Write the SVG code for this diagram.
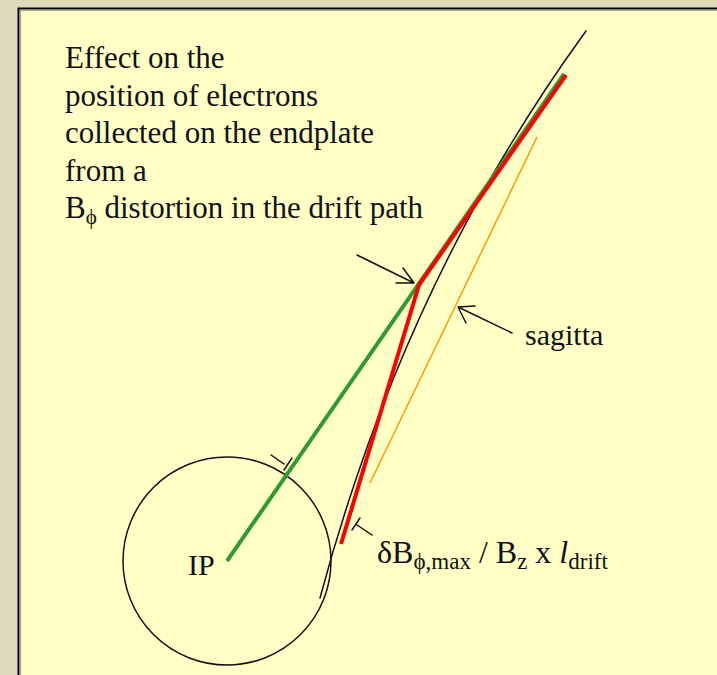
<svg xmlns="http://www.w3.org/2000/svg" width="717" height="675" viewBox="0 0 717 675">
<style>
text{font-family:"Liberation Serif","Times New Roman",serif;fill:#111;}
.t{font-size:30px;}
.h{font-size:31px;}
.s{font-size:21px;}
.s2{font-size:23px;}
.thin{fill:none;stroke:#111;stroke-width:1.5;stroke-linecap:round;stroke-linejoin:round;}
</style>
<rect x="0" y="0" width="717" height="675" fill="#DEDABB"/>
<rect x="18" y="8" width="699" height="667" fill="#FFFFC6"/>
<path d="M18.5 675 V8.5 H717" fill="none" stroke="#000" stroke-width="2"/>
<path d="M20.5 675 V10.5 H717" fill="none" stroke="#A9A68A" stroke-width="1.2"/>
<g id="title" font-family="Liberation Serif, Times New Roman, serif">
<text class="h" x="65" y="68">Effect on the</text>
<text class="h" x="65" y="105.5">position of electrons</text>
<text class="h" x="65" y="143">collected on the endplate</text>
<text class="h" x="65" y="180.5">from a</text>
<text class="h" x="65" y="218">B<tspan class="s" dy="6">ϕ</tspan><tspan dy="-6"> distortion in the drift path</tspan></text>
</g>
<g id="ip-circle">
<circle cx="227" cy="561" r="104" fill="none" stroke="#111" stroke-width="1.5"/>
<text class="t" x="188" y="575">IP</text>
</g>
<g id="track">
<path d="M320 598 Q405 280 586 31" class="thin"/>
</g>
<g id="sagitta-line">
<line x1="370" y1="483" x2="537" y2="137" stroke="#FF9900" stroke-width="1.5"/>
</g>
<g id="green-track">
<line x1="227" y1="561" x2="564" y2="74" stroke="#339933" stroke-width="4"/>
</g>
<g id="red-track">
<polyline points="341,544 419,285 566,75" fill="none" stroke="#FF0000" stroke-width="4" stroke-linejoin="miter"/>
</g>
<g id="connectors">
<path d="M357 255 L414 283 M403 268 L414 283 L396 283" class="thin"/>
<path d="M512 333 L458 307 M475 306 L458 307 L466 323" class="thin"/>
<path d="M271 455 L284 464 M292 458 L284 470" class="thin"/>
<path d="M357 525 L372 535 M360 518 L352 530" class="thin"/>
</g>
<g id="labels">
<text class="t" x="525" y="345">sagitta</text>
<text x="377" y="563" font-size="32">δB<tspan class="s2" dy="6">ϕ,max</tspan><tspan dy="-6"> / B</tspan><tspan class="s2" dy="6">z</tspan><tspan dy="-6"> x </tspan><tspan font-style="italic">l</tspan><tspan class="s2" dy="6">drift</tspan></text>
</g>
</svg>
